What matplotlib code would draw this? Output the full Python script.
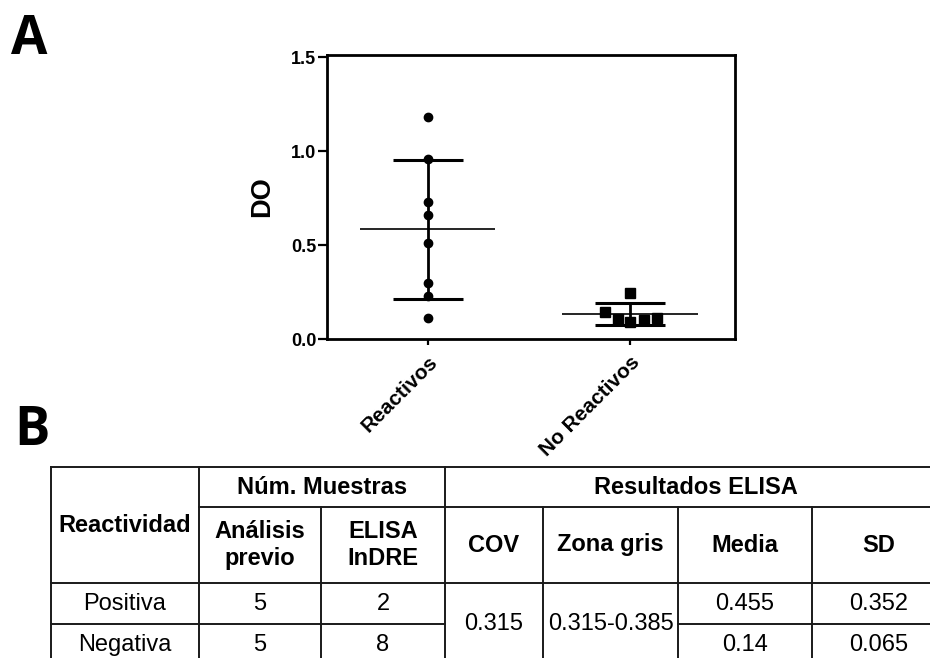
import numpy as np
import matplotlib.pyplot as plt

plt.rcParams['font.family'] = ['Liberation Sans', 'DejaVu Sans']

# panel A data (OD values)
groups = ['Reactivos', 'No Reactivos']
reactivos = [1.18, 0.96, 0.73, 0.66, 0.51, 0.30, 0.23, 0.11]
no_reactivos = [0.246, 0.145, 0.105, 0.089, 0.101, 0.113]
no_reactivos_dx = [0, -0.125, -0.06, 0, 0.07, 0.135]
yticks = [0.0, 0.5, 1.0, 1.5]

# panel B table
reactividad = ['Positiva', 'Negativa']
analisis_previo = ['5', '5']
elisa_indre = ['2', '8']
cov = '0.315'
zona_gris = '0.315-0.385'
media = ['0.455', '0.14']
sd = ['0.352', '0.065']

fig = plt.figure(figsize=(9.3, 6.58), dpi=100)
ax = fig.add_axes([0.3513, 0.4848, 0.439, 0.4316])

for i, vals in enumerate([reactivos, no_reactivos]):
    m, s = np.mean(vals), np.std(vals, ddof=1)
    ax.hlines(m, i - 0.335, i + 0.335, color='black', lw=1.2, zorder=2)
    ax.errorbar(i, m, yerr=s, fmt='none', ecolor='black', elinewidth=2,
                capsize=25, capthick=2.2, zorder=3)

ax.plot(np.zeros(len(reactivos)), reactivos, 'o', color='black', ms=6, zorder=4)
ax.plot(1 + np.array(no_reactivos_dx), no_reactivos, 's', color='black', ms=6.8, zorder=4)

ax.set_xlim(-0.5, 1.52)
ax.set_ylim(0, 1.512)
ax.set_yticks(yticks)
ax.set_yticklabels([f'{t:.1f}' for t in yticks], fontsize=13, fontweight='bold')
ax.set_xticks([0, 1])
ax.set_xticklabels(groups, fontsize=15, fontweight='bold', rotation=45,
                   ha='right', va='top', rotation_mode='anchor')
ax.tick_params(axis='both', width=1.6, direction='out')
ax.tick_params(axis='y', length=6.5, pad=1)
ax.tick_params(axis='x', length=4.5, pad=5)
for sp in ax.spines.values():
    sp.set_linewidth(2)
ax.set_ylabel('DO', fontsize=19.5, fontweight='bold')
ax.yaxis.set_label_coords(-0.127, 0.5)

fig.text(11 / 930, 1 - 54 / 658, 'A', family='Open Sans', fontweight='bold',
         fontsize=38, va='baseline')
fig.text(14 / 930, 1 - 445 / 658, 'B', family='Open Sans', fontweight='bold',
         fontsize=38, va='baseline')

# table drawn in pixel coordinates
tab = fig.add_axes([0, 0, 1, 1])
tab.set_xlim(0, 930)
tab.set_ylim(658, 0)
tab.axis('off')
tab.patch.set_visible(False)

xs = [51, 199, 321, 445, 543, 678, 812, 946]
ys = [467, 507, 583, 624, 666]
lk = dict(color='#1a1a1a', lw=1.4)

tab.plot([xs[0], xs[-1]], [ys[0], ys[0]], **lk)
tab.plot([xs[1], xs[-1]], [ys[1], ys[1]], **lk)
tab.plot([xs[0], xs[-1]], [ys[2], ys[2]], **lk)
tab.plot([xs[0], xs[3]], [ys[3], ys[3]], **lk)
tab.plot([xs[5], xs[-1]], [ys[3], ys[3]], **lk)
tab.plot([xs[0], xs[-1]], [ys[4], ys[4]], **lk)
for x in [xs[0], xs[1], xs[3], xs[-1]]:
    tab.plot([x, x], [ys[0], ys[4]], **lk)
for x in [xs[2], xs[4], xs[5], xs[6]]:
    tab.plot([x, x], [ys[1], ys[4]], **lk)

hk = dict(ha='center', va='center', fontsize=17, fontweight='bold', linespacing=1.25)
vk = dict(ha='center', va='center', fontsize=17)

def cx(a, b):
    return (xs[a] + xs[b]) / 2

def cy(a, b):
    return (ys[a] + ys[b]) / 2

tab.text(cx(0, 1), cy(0, 2), 'Reactividad', **hk)
tab.text(cx(1, 3), cy(0, 1), 'Núm. Muestras', **hk)
tab.text(cx(3, 7), cy(0, 1), 'Resultados ELISA', **hk)
sub = ['Análisis\nprevio', 'ELISA\nInDRE', 'COV', 'Zona gris', 'Media', 'SD']
for j, t in enumerate(sub):
    tab.text(cx(j + 1, j + 2), cy(1, 2), t, **hk)

for r in range(2):
    yy = cy(2 + r, 3 + r)
    tab.text(cx(0, 1), yy, reactividad[r], **vk)
    tab.text(cx(1, 2), yy, analisis_previo[r], **vk)
    tab.text(cx(2, 3), yy, elisa_indre[r], **vk)
    tab.text(cx(5, 6), yy, media[r], **vk)
    tab.text(cx(6, 7), yy, sd[r], **vk)
tab.text(cx(3, 4), cy(2, 4), cov, **vk)
tab.text(cx(4, 5), cy(2, 4), zona_gris, **vk)

plt.savefig('out.png', dpi=100)
